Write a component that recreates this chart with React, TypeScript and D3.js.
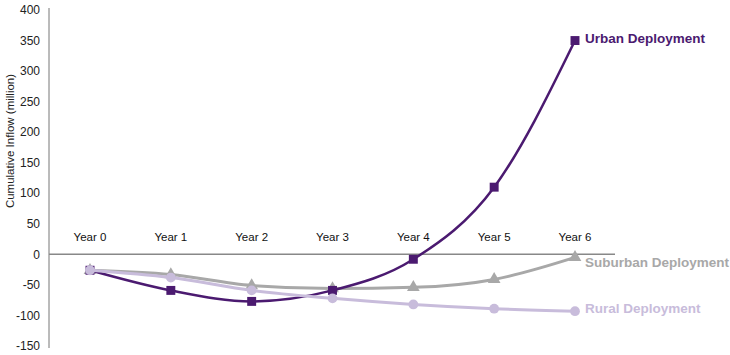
import React, {useEffect, useRef} from 'react';
import * as d3 from 'd3';

const years = ['Year 0', 'Year 1', 'Year 2', 'Year 3', 'Year 4', 'Year 5', 'Year 6'];
const urban = [-26, -59, -77, -59, -8, 110, 350];
const suburban = [-26, -33, -51, -56, -54, -41, -5];
const rural = [-26, -38, -59, -72, -82, -89, -93];
const yTicks = [400, 350, 300, 250, 200, 150, 100, 50, 0, -50, -100, -150];

const WIDTH = 730;
const HEIGHT = 355;

const App: React.FC = () => {
    const svgRef = useRef<SVGSVGElement | null>(null);

    useEffect(() => {
        if (!svgRef.current) return;
        const svg = d3.select(svgRef.current);
        svg.selectAll('*').remove();

        const font = 'Liberation Sans, Arial, Helvetica, sans-serif';
        const x = d3.scalePoint<string>().domain(years).range([90, 575]);
        const y = d3.scaleLinear().domain([-150, 400]).range([346, 10]);

        // y axis line, no ticks
        svg.append('line')
            .attr('x1', 49).attr('x2', 49)
            .attr('y1', 8).attr('y2', y(-150) + 2)
            .attr('stroke', '#777').attr('stroke-width', 1);

        svg.append('g')
            .selectAll('text')
            .data(yTicks)
            .enter()
            .append('text')
            .attr('x', 40)
            .attr('y', (d) => y(d))
            .attr('dy', '0.35em')
            .attr('text-anchor', 'end')
            .style('font-family', font)
            .style('font-size', '12px')
            .style('fill', '#222')
            .text((d) => d);

        // axis title
        svg.append('text')
            .attr('transform', `translate(14,141) rotate(-90)`)
            .attr('text-anchor', 'middle')
            .style('font-family', font)
            .style('font-size', '11.5px')
            .style('fill', '#222')
            .text('Cumulative Inflow (million)');

        // zero line
        svg.append('line')
            .attr('x1', 49).attr('x2', 615)
            .attr('y1', y(0)).attr('y2', y(0))
            .attr('stroke', '#888').attr('stroke-width', 1.5);

        // year labels above zero line
        svg.append('g')
            .selectAll('text')
            .data(years)
            .enter()
            .append('text')
            .attr('x', (d) => x(d) as number)
            .attr('y', y(0) - 13)
            .attr('text-anchor', 'middle')
            .style('font-family', font)
            .style('font-size', '11.5px')
            .style('fill', '#111')
            .text((d) => d);

        const line = d3.line<number>()
            .x((_, i) => x(years[i]) as number)
            .y((d) => y(d))
            .curve(d3.curveMonotoneX);

        const series = [
            {name: 'Suburban Deployment', data: suburban, color: '#a8a8a8', shape: d3.symbolTriangle, size: 70, width: 3},
            {name: 'Urban Deployment', data: urban, color: '#4b1a70', shape: d3.symbolSquare, size: 80, width: 2.5},
            {name: 'Rural Deployment', data: rural, color: '#c8bcdb', shape: d3.symbolCircle, size: 75, width: 3},
        ];

        series.forEach((s) => {
            const g = svg.append('g');
            g.append('path')
                .attr('d', line(s.data) as string)
                .attr('fill', 'none')
                .attr('stroke', s.color)
                .attr('stroke-width', s.width);
            g.selectAll('path.mark')
                .data(s.data)
                .enter()
                .append('path')
                .attr('class', 'mark')
                .attr('transform', (d, i) => `translate(${x(years[i])},${y(d)})`)
                .attr('d', d3.symbol().type(s.shape).size(s.size)() as string)
                .attr('fill', s.color);
        });

        // end labels
        const labels = [
            {text: 'Urban Deployment', color: '#4b1a70', value: urban[6], dy: -2},
            {text: 'Suburban Deployment', color: '#a8a8a8', value: suburban[6], dy: 5},
            {text: 'Rural Deployment', color: '#c8bcdb', value: rural[6], dy: -3},
        ];
        svg.append('g')
            .selectAll('text')
            .data(labels)
            .enter()
            .append('text')
            .attr('x', 585)
            .attr('y', (d) => y(d.value) + d.dy)
            .attr('dy', '0.35em')
            .style('font-family', font)
            .style('font-size', '13.5px')
            .style('font-weight', 'bold')
            .style('fill', (d) => d.color)
            .text((d) => d.text);
    }, []);

    return (
        <svg ref={svgRef} width={WIDTH} height={HEIGHT}
             style={{position: 'absolute', left: 0, top: 0, background: '#fff'}}/>
    );
};

export default App;
